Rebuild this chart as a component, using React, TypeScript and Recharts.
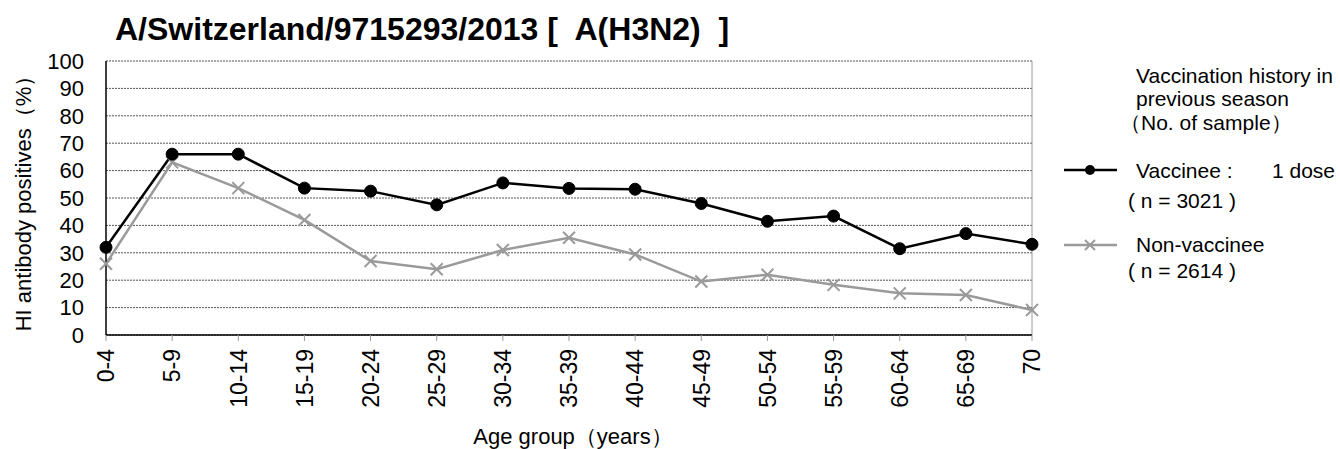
import { LineChart, Line, XAxis, YAxis, CartesianGrid, ReferenceLine, Label } from "recharts";

// 年齢群
const ageGroups = [
  "0-4", "5-9", "10-14", "15-19", "20-24", "25-29", "30-34", "35-39",
  "40-44", "45-49", "50-54", "55-59", "60-64", "65-69", "70",
];

// HI抗体保有率(%)
const vaccinee = [32, 66, 66, 53.6, 52.5, 47.5, 55.5, 53.5, 53.2, 48, 41.5, 43.4, 31.5, 37, 33.1];
const nonVaccinee = [26, 63, 53.6, 42, 27, 24, 31, 35.5, 29.4, 19.5, 22, 18.3, 15.2, 14.6, 9.1];

const yTicks = [0, 10, 20, 30, 40, 50, 60, 70, 80, 90, 100];

const data = ageGroups.map((age, i) => ({
  age,
  vaccinee: vaccinee[i],
  nonVaccinee: nonVaccinee[i],
}));

const FONT = "'Liberation Sans', Arial, sans-serif";
const GRAY = "#9a9a9a";

const CrossDot = (props: any) => {
  const { cx, cy } = props;
  if (cx == null || cy == null) return null;
  const s = 6;
  return (
    <g stroke={GRAY} strokeWidth={2}>
      <line x1={cx - s} y1={cy - s} x2={cx + s} y2={cy + s} />
      <line x1={cx - s} y1={cy + s} x2={cx + s} y2={cy - s} />
    </g>
  );
};

const AgeTick = (props: any) => {
  const { x, y, payload } = props;
  return (
    <g transform={`translate(${x},${y + 6})`}>
      <text transform="rotate(-90)" textAnchor="end" dy="0.36em" fontSize={23} fill="#000" fontFamily={FONT}>
        {payload.value}
      </text>
    </g>
  );
};

export default function App() {
  return (
    <div style={{ position: "absolute", left: 0, top: 0, width: 1340, height: 449, background: "#fff", fontFamily: FONT }}>
      <LineChart width={1340} height={449} data={data} margin={{ top: 61, right: 308, left: 0, bottom: 0 }}>
        <CartesianGrid vertical={false} stroke="#555" strokeDasharray="2 1" strokeWidth={1} />
        <XAxis
          dataKey="age"
          height={114}
          interval={0}
          tickSize={6}
          tickLine={{ stroke: GRAY }}
          axisLine={{ stroke: "#000", strokeWidth: 1.5 }}
          tick={<AgeTick />}
        >
          <Label
            content={() => (
              <text x={573} y={444} textAnchor="middle" fontSize={22} fill="#000" fontFamily={FONT}>
                Age group（years）
              </text>
            )}
          />
        </XAxis>
        <YAxis
          width={106}
          domain={[0, 100]}
          ticks={yTicks}
          interval={0}
          tickLine={false}
          tickSize={20}
          axisLine={{ stroke: "#000", strokeWidth: 1.5 }}
          tick={{ fontSize: 22, fill: "#000", fontFamily: FONT }}
        >
          <Label
            content={({ viewBox }: any) => {
              const cy = viewBox.y + viewBox.height / 2;
              return (
                <text
                  x={23}
                  y={cy}
                  transform={`rotate(-90, 23, ${cy})`}
                  textAnchor="middle"
                  dominantBaseline="central"
                  fontSize={22}
                  fill="#000"
                  fontFamily={FONT}
                >
                  HI antibody positives（%）
                </text>
              );
            }}
          />
        </YAxis>
        <ReferenceLine x="70" stroke={GRAY} strokeWidth={1} />
        <Line
          dataKey="nonVaccinee"
          stroke={GRAY}
          strokeWidth={2.5}
          dot={<CrossDot />}
          isAnimationActive={false}
        />
        <Line
          dataKey="vaccinee"
          stroke="#000"
          strokeWidth={2.5}
          dot={{ r: 6, fill: "#000", stroke: "#000", strokeWidth: 1 }}
          isAnimationActive={false}
        />
      </LineChart>

      {/* タイトルと凡例 */}
      <svg style={{ position: "absolute", left: 0, top: 0 }} width={1340} height={449} pointerEvents="none">
        <text x={115} y={40} fontSize={32} fontWeight="bold" fill="#000" fontFamily={FONT} style={{ whiteSpace: "pre" }}>
          {"A/Switzerland/9715293/2013 [  A(H3N2)  ]"}
        </text>
        <g fontSize={21} fill="#000" fontFamily={FONT} style={{ whiteSpace: "pre" }}>
          <text x={1136} y={83}>Vaccination history in</text>
          <text x={1136} y={106}>previous season</text>
          <text x={1120} y={130}>（No. of sample）</text>
          <text x={1136} y={178}>Vaccinee :</text>
          <text x={1335} y={178} textAnchor="end">1 dose</text>
          <text x={1128} y={208}>( n = 3021 )</text>
          <text x={1136} y={252}>Non-vaccinee</text>
          <text x={1128} y={278}>( n = 2614 )</text>
        </g>
        <line x1={1064} y1={170} x2={1117} y2={170} stroke="#000" strokeWidth={2.5} />
        <circle cx={1090} cy={170} r={5} fill="#000" />
        <line x1={1064} y1={245} x2={1117} y2={245} stroke={GRAY} strokeWidth={2.5} />
        <g stroke={GRAY} strokeWidth={2}>
          <line x1={1085} y1={240} x2={1095} y2={250} />
          <line x1={1085} y1={250} x2={1095} y2={240} />
        </g>
      </svg>
    </div>
  );
}
